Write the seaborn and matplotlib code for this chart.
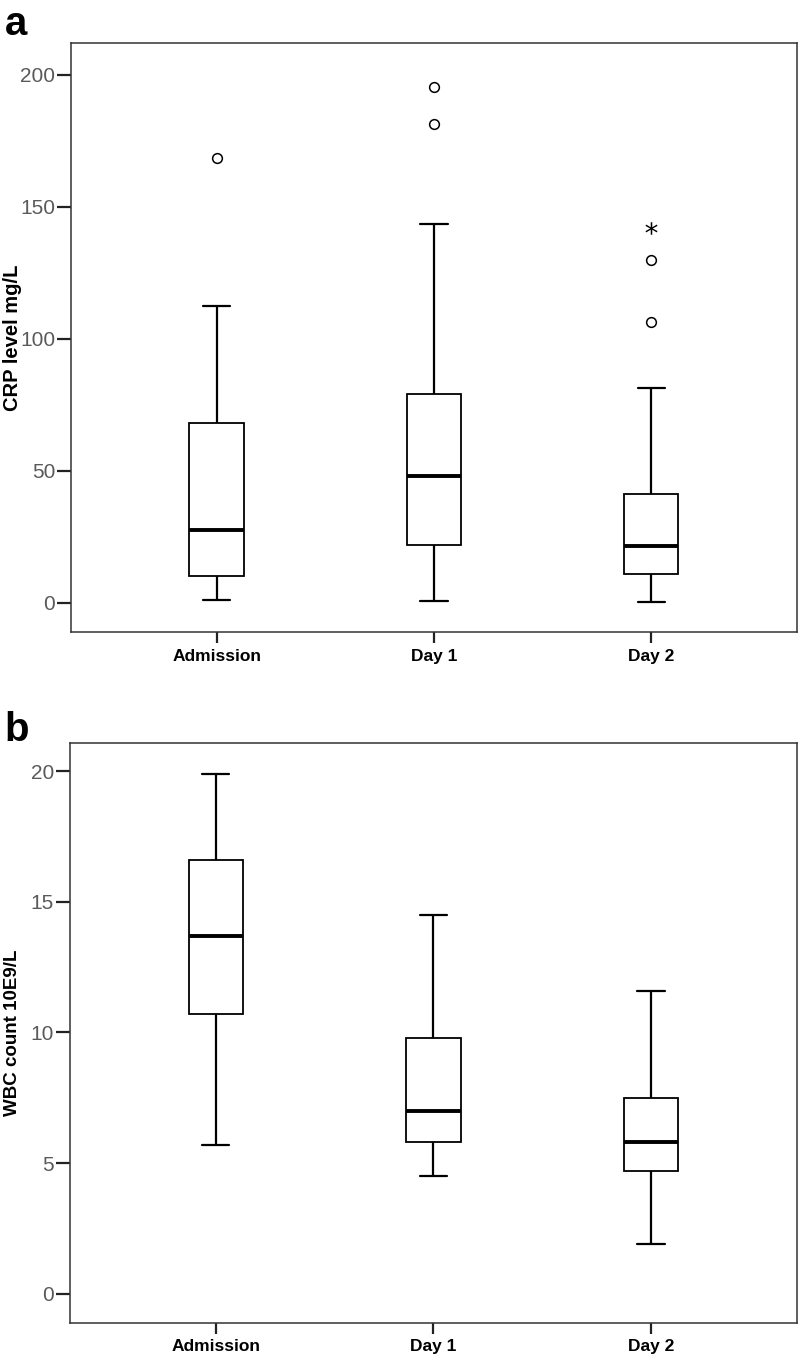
import numpy as np
import pandas as pd
import matplotlib
matplotlib.use("Agg")
import matplotlib.pyplot as plt
import seaborn as sns

# ---------------- data ----------------
categories = ["Admission", "Day 1", "Day 2"]

crp_whislo = [1.0, 0.8, 0.4]
crp_q1 = [10.0, 22.0, 11.0]
crp_median = [27.5, 48.1, 21.5]
crp_q3 = [68.2, 79.2, 41.0]
crp_whishi = [112.3, 143.3, 81.2]
crp_outlier_cat = ["Admission", "Day 1", "Day 1", "Day 2", "Day 2"]
crp_outlier_val = [168.3, 181.3, 195.4, 106.2, 130.0]
crp_extreme_cat = ["Day 2"]
crp_extreme_val = [142.0]

wbc_whislo = [5.7, 4.5, 1.9]
wbc_q1 = [10.7, 5.8, 4.7]
wbc_median = [13.7, 7.0, 5.8]
wbc_q3 = [16.6, 9.8, 7.5]
wbc_whishi = [19.9, 14.5, 11.6]

crp_ticks = [0, 50, 100, 150, 200]
wbc_ticks = [0, 5, 10, 15, 20]

crp_label = "CRP level mg/L"
wbc_label = "WBC count 10E9/L"

# ---------------- style ----------------
sns.set_theme(style="white")
plt.rcParams["font.family"] = ["Liberation Sans", "DejaVu Sans"]

fig = plt.figure(figsize=(7.99, 13.55), dpi=100)
ax_a = fig.add_axes([0.0889, 0.5334, 0.9085, 0.4346])
ax_b = fig.add_axes([0.0876, 0.0238, 0.9098, 0.4276])


def five_num_frame(lo, q1, med, q3, hi):
    rows = []
    for c, a, b, m, d, e in zip(categories, lo, q1, med, q3, hi):
        for v in (a, b, m, d, e):
            rows.append({"time": c, "value": v})
    return pd.DataFrame(rows)


def draw_panel(ax, df, ylim, ticks, ylabel, label_size, out_cat=None,
               out_val=None, ext_cat=None, ext_val=None):
    sns.boxplot(data=df, x="time", y="value", order=categories, ax=ax,
                whis=(0, 100), width=0.25, color="white", linecolor="black",
                linewidth=1.3, showfliers=False, saturation=1,
                medianprops=dict(linewidth=2.8, color="black"),
                whiskerprops=dict(linewidth=1.6, color="black"),
                capprops=dict(linewidth=1.6, color="black"))
    if out_cat:
        dfo = pd.DataFrame({"time": out_cat, "value": out_val})
        sns.stripplot(data=dfo, x="time", y="value", order=categories, ax=ax,
                      jitter=False, marker="o", size=7, color="white",
                      edgecolor="black", linewidth=1.1, zorder=5)
    if ext_cat:
        dfe = pd.DataFrame({"time": ext_cat, "value": ext_val})
        sns.stripplot(data=dfe, x="time", y="value", order=categories, ax=ax,
                      jitter=False, marker="$*$", size=9, color="black",
                      linewidth=0, zorder=5)
    ax.set_xlim(-0.67, 2.67)
    ax.set_ylim(*ylim)
    ax.set_yticks(ticks)
    ax.set_yticklabels([str(t) for t in ticks])
    ax.set_xlabel("")
    ax.set_ylabel(ylabel, fontsize=label_size, fontweight="bold", color="black")
    ax.yaxis.set_label_coords(-0.068, 0.5)
    ax.tick_params(axis="y", direction="out", length=10, width=1.6,
                   color="#222222", labelsize=15, labelcolor="#5a5a5a", pad=1.5,
                   left=True)
    ax.tick_params(axis="x", direction="out", length=8, width=1.6,
                   color="#222222", labelsize=12.5, labelcolor="black", pad=4,
                   bottom=True)
    for lab in ax.get_xticklabels():
        lab.set_fontweight("bold")
    for sp in ax.spines.values():
        sp.set_visible(True)
        sp.set_color("#333333")
        sp.set_linewidth(1.1)


crp_df = five_num_frame(crp_whislo, crp_q1, crp_median, crp_q3, crp_whishi)
wbc_df = five_num_frame(wbc_whislo, wbc_q1, wbc_median, wbc_q3, wbc_whishi)

draw_panel(ax_a, crp_df, (-11.2, 211.9), crp_ticks, crp_label, 14.5,
           crp_outlier_cat, crp_outlier_val, crp_extreme_cat, crp_extreme_val)
draw_panel(ax_b, wbc_df, (-1.11, 21.06), wbc_ticks, wbc_label, 13.5)

fig.text(0.006, 1 - 35 / 1355, "a", fontsize=29, fontweight="bold",
         va="baseline", ha="left", color="black")
fig.text(0.006, 1 - 741 / 1355, "b", fontsize=29, fontweight="bold",
         va="baseline", ha="left", color="black")

fig.savefig("out.png", dpi=100, facecolor="white")
